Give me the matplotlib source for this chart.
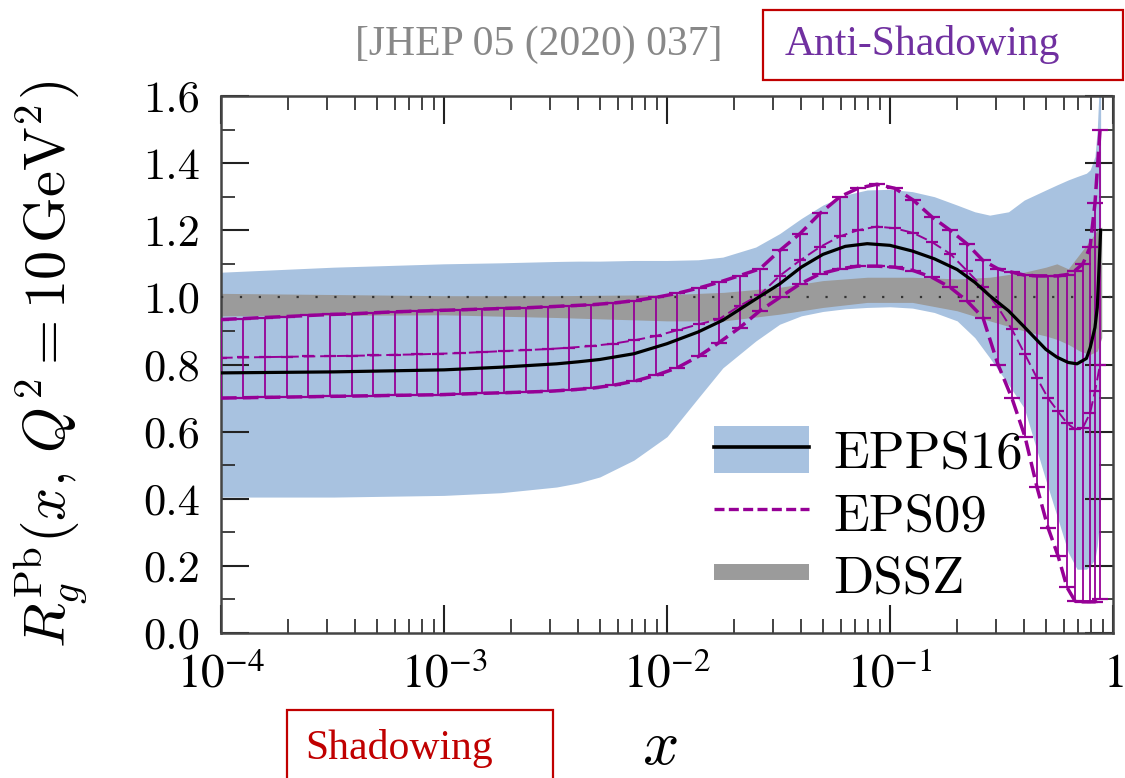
import numpy as np
import matplotlib
matplotlib.use("Agg")
import matplotlib.pyplot as plt
from matplotlib.lines import Line2D
from matplotlib.patches import Patch, Rectangle
from matplotlib.ticker import MultipleLocator, LogLocator, NullFormatter, FormatStrFormatter

# ----- EPPS16 (central + band) ---------------------------------------------
epps_x = [1.0e-4, 3.2e-4, 1.0e-3, 1.8e-3, 3.2e-3, 4.0e-3, 5.0e-3, 7.1e-3, 1.0e-2,
          1.38e-2, 1.78e-2, 2.5e-2, 3.2e-2, 4.0e-2, 5.0e-2, 6.3e-2, 7.9e-2, 0.10,
          0.126, 0.158, 0.20, 0.24, 0.28, 0.34, 0.40, 0.50, 0.56, 0.63, 0.69,
          0.76, 0.79, 0.83, 0.85, 0.87, 0.88]
epps_mid = [0.775, 0.778, 0.784, 0.792, 0.802, 0.808, 0.815, 0.832, 0.862,
            0.897, 0.932, 0.995, 1.04, 1.09, 1.128, 1.152, 1.160, 1.155,
            1.138, 1.115, 1.083, 1.045, 1.005, 0.96, 0.912, 0.845, 0.822,
            0.806, 0.802, 0.818, 0.85, 0.91, 0.97, 1.12, 1.20]
epps_hi = [1.075, 1.09, 1.10, 1.103, 1.107, 1.108, 1.108, 1.11, 1.11,
           1.112, 1.12, 1.15, 1.19, 1.235, 1.275, 1.305, 1.32, 1.322,
           1.315, 1.30, 1.275, 1.255, 1.245, 1.255, 1.29, 1.32, 1.335,
           1.35, 1.36, 1.37, 1.38, 1.42, 1.50, 1.65, 1.75]
epps_lo = [0.405, 0.405, 0.41, 0.418, 0.435, 0.447, 0.465, 0.515, 0.585,
           0.70, 0.79, 0.87, 0.92, 0.945, 0.958, 0.966, 0.97, 0.972,
           0.968, 0.955, 0.93, 0.88, 0.82, 0.74, 0.67, 0.455, 0.35,
           0.24, 0.19, 0.19, 0.20, 0.22, 0.26, 0.33, 0.40]

# ----- DSSZ band -------------------------------------------------------------
dssz_x = [1e-4, 1e-3, 3.2e-3, 1e-2, 1.8e-2, 3.2e-2, 5.0e-2, 7.9e-2, 0.126, 0.20,
          0.28, 0.40, 0.50, 0.56, 0.63, 0.71, 0.79, 0.85, 0.89]
dssz_hi = [1.012, 1.005, 1.005, 1.008, 1.015, 1.03, 1.05, 1.06, 1.06, 1.055,
           1.06, 1.075, 1.09, 1.10, 1.085, 1.13, 1.17, 1.20, 1.21]
dssz_lo = [0.945, 0.948, 0.94, 0.93, 0.93, 0.95, 0.97, 0.985, 0.985, 0.96,
           0.93, 0.90, 0.885, 0.875, 0.86, 0.84, 0.83, 0.84, 0.88]

# ----- EPS09 (error bars) ----------------------------------------------------
eps_x = [1.0e-4, 1.26e-4, 1.57e-4, 1.98e-4, 2.46e-4, 3.08e-4, 3.86e-4, 4.80e-4,
         6.03e-4, 7.56e-4, 9.40e-4, 1.18e-3, 1.48e-3, 1.86e-3, 2.33e-3, 2.92e-3,
         3.64e-3, 4.56e-3, 5.72e-3, 7.11e-3, 8.93e-3, 1.11e-2, 1.39e-2, 1.71e-2,
         2.12e-2, 2.61e-2, 3.21e-2, 3.95e-2, 4.85e-2, 5.97e-2, 7.18e-2, 8.74e-2,
         0.105, 0.127, 0.154, 0.186, 0.221, 0.261, 0.305, 0.352, 0.403, 0.456,
         0.511, 0.567, 0.622, 0.676, 0.733, 0.789, 0.83, 0.875]
eps_mid = [0.820, 0.821, 0.822, 0.823, 0.824, 0.825, 0.826, 0.827, 0.829, 0.830,
           0.832, 0.834, 0.837, 0.840, 0.843, 0.846, 0.850, 0.855, 0.862, 0.872,
           0.885, 0.902, 0.920, 0.935, 0.975, 1.008, 1.065, 1.11, 1.15, 1.182,
           1.200, 1.211, 1.206, 1.192, 1.165, 1.13, 1.08, 1.03, 0.97, 0.905,
           0.83, 0.76, 0.70, 0.66, 0.625, 0.607, 0.612, 0.655, 0.72, 0.80]
eps_hi = [0.934, 0.937, 0.940, 0.943, 0.946, 0.949, 0.951, 0.954, 0.957, 0.959,
          0.961, 0.963, 0.965, 0.967, 0.969, 0.972, 0.975, 0.978, 0.983, 0.990,
          1.000, 1.012, 1.028, 1.045, 1.065, 1.085, 1.14, 1.19, 1.25, 1.30,
          1.325, 1.337, 1.325, 1.29, 1.24, 1.20, 1.16, 1.11, 1.085, 1.075,
          1.066, 1.064, 1.064, 1.064, 1.068, 1.08, 1.10, 1.15, 1.28, 1.50]
eps_lo = [0.700, 0.701, 0.702, 0.703, 0.704, 0.705, 0.706, 0.707, 0.708, 0.709,
          0.710, 0.712, 0.714, 0.716, 0.718, 0.720, 0.724, 0.729, 0.738, 0.750,
          0.768, 0.79, 0.825, 0.865, 0.91, 0.96, 1.00, 1.04, 1.07, 1.085,
          1.093, 1.093, 1.09, 1.08, 1.06, 1.03, 0.99, 0.94, 0.80, 0.70,
          0.585, 0.435, 0.314, 0.23, 0.136, 0.095, 0.093, 0.093, 0.093, 0.10]

xtick_vals = [1e-4, 1e-3, 1e-2, 1e-1, 1]
xtick_labels = [r"$10^{-4}$", r"$10^{-3}$", r"$10^{-2}$", r"$10^{-1}$", r"$1$"]

BLUE = "#a8c2e0"
GREY = "#9b9b9b"
PURPLE = "#960096"

fig = plt.figure(figsize=(11.25, 7.78), dpi=100)
ax = fig.add_axes([221 / 1125, 145 / 778, 892 / 1125, 537 / 778])

ax.fill_between(epps_x, epps_lo, epps_hi, color=BLUE, lw=0, zorder=1)
ax.fill_between(dssz_x, dssz_lo, dssz_hi, color=GREY, lw=0, zorder=2)
ax.axhline(1.0, color="#333333", lw=1.6, dashes=(1, 7.5), zorder=3)

# EPS09
eps_mid_a = np.array(eps_mid)
yerr = [eps_mid_a - np.array(eps_lo), np.array(eps_hi) - eps_mid_a]
ax.errorbar(eps_x, eps_mid, yerr=yerr, fmt="none", ecolor=PURPLE,
            elinewidth=1.3, capsize=6, capthick=1.6, zorder=4)
ax.plot(eps_x, eps_mid, ls="none", marker="_", ms=8, mew=1.6, color=PURPLE, zorder=4)
for arr, lw in [(eps_hi, 2.5), (eps_lo, 2.5), (eps_mid, 1.4)]:
    ln, = ax.plot(eps_x, arr, color=PURPLE, lw=lw, zorder=5)
    ln.set_dashes((4.5, 1.8) if lw > 2 else (6, 2.5))

ax.plot(epps_x, epps_mid, color="black", lw=2.3, zorder=6)

ax.set_xscale("log")
ax.set_xlim(1e-4, 1)
ax.set_ylim(0, 1.6)

ax.yaxis.set_major_locator(MultipleLocator(0.2))
ax.yaxis.set_minor_locator(MultipleLocator(0.1))
ax.yaxis.set_major_formatter(FormatStrFormatter("%.1f"))
ax.xaxis.set_minor_locator(LogLocator(base=10, subs=np.arange(2, 10), numticks=20))
ax.xaxis.set_minor_formatter(NullFormatter())
ax.set_xticks(xtick_vals)
ax.set_xticklabels(xtick_labels, fontsize=34, math_fontfamily="stix")
for lab in ax.get_yticklabels():
    lab.set_fontfamily("cmr10")
    lab.set_fontsize(32)

ax.tick_params(which="both", direction="in", top=True, right=True, color="#222222")
ax.tick_params(which="major", length=20, width=1.5)
ax.tick_params(which="minor", length=10, width=1.2)
ax.tick_params(axis="y", pad=15)
ax.tick_params(axis="x", pad=14)
for sp in ax.spines.values():
    sp.set_linewidth(1.8)
    sp.set_color("#444444")

ax.set_ylabel(r"$R_g^{\rm Pb}(x,\, Q^2 = 10\,{\rm GeV}^2)$", fontsize=42,
              math_fontfamily="cm", va="center")
ax.yaxis.set_label_coords(-0.19, 0.5)
ax.set_xlabel(r"$x$", fontsize=46, math_fontfamily="cm", va="center")
ax.xaxis.set_label_coords(0.492, -0.21)

handles = [(Patch(facecolor=BLUE, edgecolor="none"), Line2D([], [], color="black", lw=2.6)),
           Line2D([], [], color=PURPLE, lw=2.4, dashes=(3, 1.3)),
           Line2D([], [], color=GREY, lw=11.5, solid_capstyle="butt")]
ax.legend(handles, ["EPPS16", "EPS09", "DSSZ"], loc="upper left",
          bbox_to_anchor=(0.553, 0.385), frameon=False, borderpad=0, borderaxespad=0,
          prop={"family": "cmr10", "size": 38}, handlelength=1.8, handleheight=1.0,
          handletextpad=0.45, labelspacing=0.2)

# annotation boxes
fig.text(355 / 1125, 1 - 45 / 778, "[JHEP 05 (2020) 037]", fontsize=30,
         family="Liberation Serif", color="#888888", va="center", ha="left")
fig.patches.append(Rectangle((763 / 1125, 1 - 80 / 778), 360 / 1125, 70 / 778,
                             transform=fig.transFigure, fill=False,
                             edgecolor="#c00000", lw=1.6))
fig.text(785 / 1125, 1 - 45 / 778, "Anti-Shadowing", fontsize=30,
         family="Liberation Serif", color="#7030a0", va="center", ha="left")
fig.patches.append(Rectangle((287 / 1125, -0.02), 266 / 1125, 68 / 778 + 0.02,
                             transform=fig.transFigure, fill=False,
                             edgecolor="#c00000", lw=1.6))
fig.text(305 / 1125, 1 - 748 / 778, "Shadowing", fontsize=30,
         family="Liberation Serif", color="#c00000", va="center", ha="left")

fig.savefig("out.png", dpi=100)
